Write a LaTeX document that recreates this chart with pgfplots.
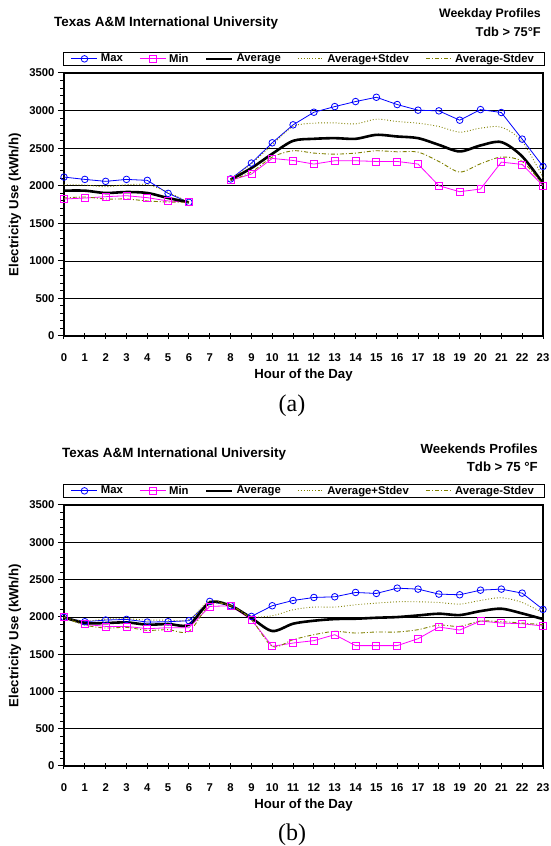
\documentclass[border=0pt]{standalone}
\usepackage{fontspec}
\setmainfont{Liberation Sans}
\newfontfamily\timesfont{Liberation Serif}
\usepackage{pgfplots}
\usepackage{pgfplotstable}
\pgfplotsset{compat=1.18}

\definecolor{maxblue}{RGB}{0,0,255}
\definecolor{minmag}{RGB}{255,0,255}
\definecolor{olive}{RGB}{128,128,0}

% weekday, Tdb > 75F (hour 7 missing)
\pgfplotstableread{
h    max   min   avg   up    lo
0    2115  1823  1934  2013  1836
1    2084  1836  1934  2009  1850
2    2058  1854  1903  1987  1823
3    2084  1867  1916  2013  1823
4    2071  1841  1903  2013  1797
5    1898  1797  1836  1912  1783
6    1779  1779  1779  1779  1779
7    nan   nan   nan   nan   nan
8    2090  2071  2080  2089  2071
9    2301  2155  2235  2292  2182
10   2571  2363  2425  2544  2381
11   2810  2336  2597  2788  2465
12   2978  2288  2624  2832  2434
13   3053  2332  2633  2836  2420
14   3120  2332  2624  2823  2434
15   3177  2323  2677  2885  2465
16   3080  2323  2655  2854  2451
17   3005  2288  2633  2832  2447
18   2996  2000  2544  2788  2323
19   2872  1920  2456  2713  2182
20   3013  1956  2536  2766  2292
21   2974  2314  2580  2779  2381
22   2620  2283  2390  2589  2323
23   2257  2000  2030  2110  2010
}\weekday

% weekends, Tdb > 75F
\pgfplotstableread{
h    max   min   avg   up    lo
0    1993  1993  1993  1993  1993
1    1935  1899  1917  1944  1890
2    1957  1872  1917  1970  1850
3    1966  1872  1926  1975  1859
4    1930  1841  1895  1957  1819
5    1935  1855  1904  1957  1828
6    1948  1855  1895  1962  1805
7    2207  2140  2193  2216  2162
8    2149  2149  2149  2149  2149
9    2006  1962  1984  2006  1962
10   2149  1605  1810  2015  1605
11   2220  1649  1908  2095  1694
12   2260  1681  1948  2131  1761
13   2269  1761  1970  2131  1805
14   2327  1614  1975  2162  1783
15   2314  1614  1988  2184  1797
16   2385  1614  1997  2202  1797
17   2372  1707  2019  2202  1828
18   2305  1863  2042  2193  1890
19   2296  1823  2024  2171  1872
20   2358  1944  2077  2220  1944
21   2372  1917  2109  2256  1935
22   2318  1908  2046  2193  1917
23   2100  1877  1970  2051  1895
}\weekend

\pgfplotsset{
  profile/.style={
    scale only axis,
    width=479pt,
    xmin=0, xmax=23, ymin=0, ymax=3500,
    xtick={0,...,23},
    ytick={0,500,...,3500},
    minor ytick={0,100,...,3500},
    tick pos=left,
    ymajorgrids,
    major grid style={black, line width=0.6pt},
    axis line style={line width=2pt},
    tick style={black, line width=1pt},
    major tick length=6pt, minor tick length=3.5pt,
    xtick align=center, ytick align=outside,
    /pgf/number format/assume math mode=true,
    /pgf/number format/1000 sep={},
    tick label style={font=\bfseries\fontsize{11.3}{13}\selectfont},
    xticklabel style={yshift=-11pt},
    label style={font=\bfseries\fontsize{13.2}{15}\selectfont},
    xlabel={Hour of the Day},
    ylabel={Electricity Use (kWh/h)},
    xlabel style={at={(rel axis cs:0.5,0)}, anchor=center, yshift=-39pt},
    ylabel style={at={(axis description cs:-0.1023,0.5)}, anchor=center, rotate=0},
    unbounded coords=jump,
    clip=false,
    legend columns=5,
    legend cell align=left,
    legend image code/.code={%
      \draw[mark repeat=2, mark phase=2, #1]
        plot coordinates {(0pt,0pt) (13pt,0pt) (26pt,0pt)};},
    legend style={at={(0.5,1)}, yshift=7pt, anchor=south,
      draw=black, line width=0.6pt, inner xsep=8pt, inner ysep=0pt,
      font=\bfseries\fontsize{11.3}{12}\selectfont,
      /tikz/every odd column/.append style={column sep=1pt},
      /tikz/every even column/.append style={column sep=14.5pt}},
  },
  maxline/.style={maxblue, line width=0.8pt, mark=o, mark size=3.3pt,
    mark options={fill=white, line width=0.8pt}},
  minline/.style={minmag, line width=0.8pt, mark=square, mark size=3.5pt,
    mark options={fill=white, line width=0.8pt}},
  avgline/.style={black, line width=2.6pt, smooth},
  upline/.style={olive, line width=0.9pt, dotted, smooth},
  loline/.style={olive, line width=0.9pt, dash pattern=on 4pt off 2pt on 1pt off 2pt, smooth},
}

\begin{document}
\begin{tikzpicture}[x=1pt, y=1pt]
\useasboundingbox (0,0) rectangle (551,846);

% ---- (a) weekday ----
\begin{axis}[profile, height=263pt, at={(64pt,510pt)}, anchor=south west]
\addplot[maxline] table[x=h, y=max] {\weekday};
\addlegendentry{Max}
\addplot[minline] table[x=h, y=min] {\weekday};
\addlegendentry{Min}
\addplot[avgline] table[x=h, y=avg] {\weekday};
\addlegendentry{Average}
\addplot[upline] table[x=h, y=up] {\weekday};
\addlegendentry{Average+Stdev}
\addplot[loline] table[x=h, y=lo] {\weekday};
\addlegendentry{Average-Stdev}
\end{axis}

\node[anchor=base west, inner sep=0pt, font=\bfseries\fontsize{13.4}{15}\selectfont] at (54,819) {Texas A\&M International University};
\node[anchor=base east, inner sep=0pt, font=\bfseries\fontsize{12.3}{14}\selectfont] at (541,828) {Weekday Profiles};
\node[anchor=base east, inner sep=0pt, font=\bfseries\fontsize{12.8}{14}\selectfont] at (541,809) {Tdb > 75°F};
\node[font=\timesfont\fontsize{24}{26}\selectfont] at (292,440) {(a)};

% ---- (b) weekends ----
\begin{axis}[profile, height=261pt, at={(64pt,80pt)}, anchor=south west]
\addplot[maxline] table[x=h, y=max] {\weekend};
\addlegendentry{Max}
\addplot[minline] table[x=h, y=min] {\weekend};
\addlegendentry{Min}
\addplot[avgline] table[x=h, y=avg] {\weekend};
\addlegendentry{Average}
\addplot[upline] table[x=h, y=up] {\weekend};
\addlegendentry{Average+Stdev}
\addplot[loline] table[x=h, y=lo] {\weekend};
\addlegendentry{Average-Stdev}
\end{axis}

\node[anchor=base west, inner sep=0pt, font=\bfseries\fontsize{13.4}{15}\selectfont] at (62,388) {Texas A\&M International University};
\node[anchor=base east, inner sep=0pt, font=\bfseries\fontsize{13.2}{15}\selectfont] at (538,392) {Weekends Profiles};
\node[anchor=base east, inner sep=0pt, font=\bfseries\fontsize{13.2}{15}\selectfont] at (538,374) {Tdb > 75 °F};
\node[font=\timesfont\fontsize{24}{26}\selectfont] at (292,11) {(b)};
\end{tikzpicture}
\end{document}
